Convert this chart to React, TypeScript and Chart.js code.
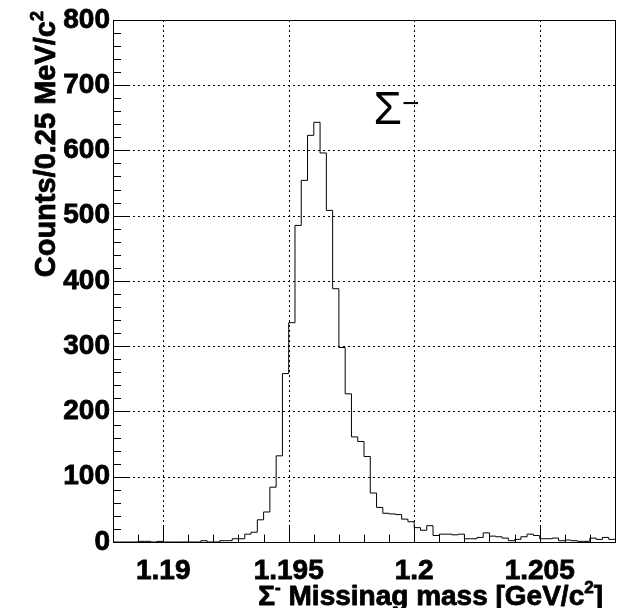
import React, { useEffect, useRef } from "react";
import { Chart, registerables } from "chart.js";

Chart.register(...registerables);

// ---------------- DATA ----------------
const binLow = 1.188;
const binHigh = 1.208;
const binWidth = 0.00025;
const counts = [
  0, 0, 0, 0, 1, 1, 0, 1, 0, 0,
  0, 0, 0, 0, 2, 0, 0, 2, 2, 5,
  5, 12, 15, 34, 46, 84, 132, 258, 336, 485,
  554, 623, 643, 596, 508, 388, 298, 227, 161, 154,
  131, 75, 53, 44, 43, 42, 35, 31, 22, 18,
  25, 10, 12, 12, 11, 12, 5, 5, 7, 14,
  9, 8, 6, 2, 4, 8, 12, 10, 5, 5,
  6, 2, 3, 2, 1, 1, 6, 4, 7, 4,
];
const xTickValues = [1.19, 1.195, 1.2, 1.205];
const xTickLabels = ["1.19", "1.195", "1.2", "1.205"];
const yTickValues = [0, 100, 200, 300, 400, 500, 600, 700, 800];
const yTickLabels = ["0", "100", "200", "300", "400", "500", "600", "700", "800"];
const xMinorStep = 0.001;
const yMinorStep = 20;
const yMin = 0;
const yMax = 800;

type Seg = { t: string; sup?: boolean };
const xTitle: Seg[] = [
  { t: "Σ" },
  { t: "-", sup: true },
  { t: " Missinag mass [GeV/c" },
  { t: "2", sup: true },
  { t: "]" },
];
const yTitle: Seg[] = [{ t: "Counts/0.25 MeV/c" }, { t: "2", sup: true }];
const peakLabelPos = { x: 1.19838, y: 640 };
const peakLabelMain = "Σ";
const peakLabelSup = "−";

// ---------------- helpers ----------------
const FAM = "'Liberation Sans', Arial, sans-serif";

function segFont(size: number, sup?: boolean) {
  return `bold ${sup ? Math.round(size * 0.62) : size}px ${FAM}`;
}
function richWidth(ctx: CanvasRenderingContext2D, segs: Seg[], size: number) {
  let w = 0;
  for (const s of segs) {
    ctx.font = segFont(size, s.sup);
    w += ctx.measureText(s.t).width;
  }
  return w;
}
function drawRich(ctx: CanvasRenderingContext2D, segs: Seg[], x: number, y: number, size: number) {
  let cx = x;
  ctx.textBaseline = "alphabetic";
  ctx.textAlign = "left";
  ctx.lineWidth = 0.8;
  ctx.strokeStyle = "#000";
  ctx.lineJoin = "round";
  for (const s of segs) {
    ctx.font = segFont(size, s.sup);
    const yy = s.sup ? y - size * 0.42 : y;
    ctx.fillText(s.t, cx, yy);
    ctx.strokeText(s.t, cx, yy);
    cx += ctx.measureText(s.t).width;
  }
}

const rootStyle = {
  id: "rootStyle",
  beforeDatasetsDraw(chart: any) {
    const { ctx, chartArea: a, scales } = chart;
    const xs = scales.x;
    const ys = scales.y;
    ctx.save();
    ctx.strokeStyle = "#000";
    ctx.lineWidth = 1;
    ctx.setLineDash([2, 3]);
    for (const v of xTickValues) {
      const px = Math.round(xs.getPixelForValue(v)) + 0.5;
      ctx.beginPath();
      ctx.moveTo(px, a.bottom);
      ctx.lineTo(px, a.top);
      ctx.stroke();
    }
    for (const v of yTickValues) {
      if (v === yMin || v === yMax) continue;
      const py = Math.round(ys.getPixelForValue(v)) + 0.5;
      ctx.beginPath();
      ctx.moveTo(a.left, py);
      ctx.lineTo(a.right, py);
      ctx.stroke();
    }
    ctx.restore();
  },
  afterDatasetsDraw(chart: any) {
    const { ctx, chartArea: a, scales } = chart;
    const xs = scales.x;
    const ys = scales.y;
    ctx.save();
    ctx.strokeStyle = "#000";
    ctx.lineWidth = 1;
    ctx.setLineDash([]);
    ctx.strokeRect(Math.round(a.left) + 0.5, Math.round(a.top) + 0.5, Math.round(a.right - a.left), Math.round(a.bottom - a.top));
    const xMajLen = 15, xMinLen = 7.5;
    const nX = Math.round((xs.max - xs.min) / xMinorStep);
    const x0 = Math.ceil(xs.min / xMinorStep - 1e-6) * xMinorStep;
    for (let i = 0; i <= nX + 1; i++) {
      const v = x0 + i * xMinorStep;
      if (v > xs.max + 1e-9) break;
      const major = xTickValues.some((t) => Math.abs(t - v) < 1e-7);
      const px = Math.round(xs.getPixelForValue(v)) + 0.5;
      ctx.beginPath();
      ctx.moveTo(px, a.bottom);
      ctx.lineTo(px, a.bottom - (major ? xMajLen : xMinLen));
      ctx.stroke();
    }
    const yMajLen = 16, yMinLen = 8;
    for (let v = yMin; v <= yMax + 1e-9; v += yMinorStep) {
      const major = yTickValues.includes(v);
      const py = Math.round(ys.getPixelForValue(v)) + 0.5;
      ctx.beginPath();
      ctx.moveTo(a.left, py);
      ctx.lineTo(a.left + (major ? yMajLen : yMinLen), py);
      ctx.stroke();
    }
    ctx.restore();
  },
  afterDraw(chart: any) {
    const { ctx, scales } = chart;
    ctx.save();
    ctx.fillStyle = "#000";
    const xs = 28;
    const wx = richWidth(ctx, xTitle, xs);
    drawRich(ctx, xTitle, 603 - wx, 605, xs);
    const ysz = 29;
    const wy = richWidth(ctx, yTitle, ysz);
    ctx.save();
    ctx.translate(55, 11 + wy);
    ctx.rotate(-Math.PI / 2);
    drawRich(ctx, yTitle, 0, 0, ysz);
    ctx.restore();
    const px = scales.x.getPixelForValue(peakLabelPos.x);
    const py = scales.y.getPixelForValue(peakLabelPos.y);
    ctx.font = "46px 'Liberation Sans'";
    ctx.textAlign = "left";
    ctx.textBaseline = "alphabetic";
    ctx.fillText(peakLabelMain, px, py);
    const w = ctx.measureText(peakLabelMain).width;
    ctx.font = "30px 'Liberation Sans'";
    ctx.fillText(peakLabelSup, px + w, py - 11);
    ctx.restore();
  },
};

export default function App() {
  const ref = useRef<HTMLCanvasElement | null>(null);
  useEffect(() => {
    document.body.style.margin = "0";
    const canvas = ref.current!;
    const points = counts.map((c, i) => ({ x: binLow + i * binWidth, y: c }));
    points.push({ x: binHigh, y: counts[counts.length - 1] });
    const tickFont = { family: "'Liberation Sans', Arial, sans-serif", weight: "bold" as const, size: 28 };
    const chart = new Chart(canvas, {
      type: "line",
      data: {
        datasets: [
          {
            data: points,
            stepped: "before",
            borderColor: "#000",
            borderWidth: 1,
            pointRadius: 0,
            fill: false,
            tension: 0,
          },
        ],
      },
      options: {
        responsive: false,
        animation: false,
        devicePixelRatio: 1,
        layout: { padding: { top: 18, right: 12, left: 0, bottom: 0 } },
        plugins: { legend: { display: false }, tooltip: { enabled: false } },
        scales: {
          x: {
            type: "linear",
            min: binLow,
            max: binHigh,
            grid: { display: false, drawTicks: false },
            border: { display: false },
            afterBuildTicks: (s: any) => {
              s.ticks = xTickValues.map((v) => ({ value: v }));
            },
            afterFit: (s: any) => {
              s.height = 66;
            },
            ticks: {
              font: tickFont,
              color: "#000",
              textStrokeColor: "#000",
              textStrokeWidth: 0.8,
              padding: 12,
              maxRotation: 0,
              autoSkip: false,
              callback: (v: any) => {
                const i = xTickValues.findIndex((t) => Math.abs(t - v) < 1e-9);
                return i >= 0 ? xTickLabels[i] : "";
              },
            },
          },
          y: {
            type: "linear",
            min: yMin,
            max: yMax,
            grid: { display: false, drawTicks: false },
            border: { display: false },
            afterBuildTicks: (s: any) => {
              s.ticks = yTickValues.map((v) => ({ value: v }));
            },
            afterFit: (s: any) => {
              s.width = 113;
            },
            ticks: {
              font: tickFont,
              color: "#000",
              textStrokeColor: "#000",
              textStrokeWidth: 0.8,
              padding: 3,
              autoSkip: false,
              callback: (v: any) => {
                const i = yTickValues.indexOf(v);
                return i >= 0 ? yTickLabels[i] : "";
              },
            },
          },
        },
      },
      plugins: [rootStyle],
    });
    return () => chart.destroy();
  }, []);
  return (
    <div style={{ width: 627, height: 608, background: "#fff" }}>
      <canvas ref={ref} width={627} height={608} style={{ display: "block" }} />
    </div>
  );
}
